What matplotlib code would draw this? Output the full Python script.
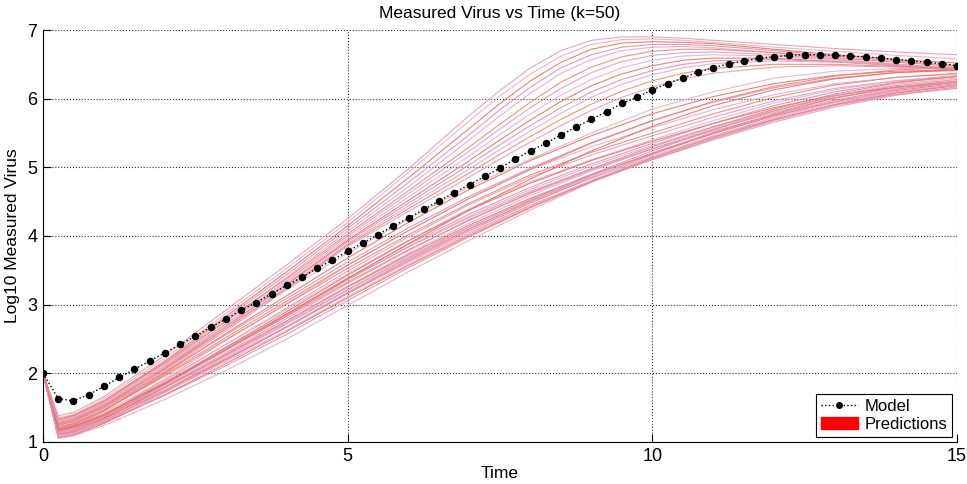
import numpy as np
import matplotlib
matplotlib.use("Agg")
import matplotlib.pyplot as plt
from matplotlib.lines import Line2D
from matplotlib.patches import Patch

plt.rcParams['font.family'] = ['Liberation Sans', 'DejaVu Sans']

# model output, sampled every 0.25 time units
model_time = np.linspace(0, 15, 61)
model_virus = [2.00, 1.63, 1.60, 1.69, 1.81, 1.94, 2.06, 2.18, 2.30, 2.42, 2.54, 2.67, 2.79,
               2.92, 3.03, 3.16, 3.28, 3.40, 3.53, 3.65, 3.78, 3.90, 4.02, 4.15, 4.26, 4.39,
               4.51, 4.63, 4.75, 4.87, 4.99, 5.12, 5.24, 5.35, 5.47, 5.59, 5.70, 5.81,
               5.93, 6.02, 6.13, 6.22, 6.30, 6.39, 6.45, 6.51, 6.55, 6.59, 6.61, 6.63,
               6.64, 6.64, 6.63, 6.62, 6.61, 6.59, 6.57, 6.55, 6.53, 6.51, 6.48]

# fast growing predictions
fast_time = [0, 0.25, 0.5, 1, 2, 3, 4, 5, 6, 7, 7.5, 8, 8.5, 9, 9.5, 10, 10.5, 11, 12, 13, 14, 15]
fast_runs = [
    [2.00, 1.38, 1.43, 1.66, 2.26, 2.92, 3.58, 4.25, 4.98, 5.76, 6.12, 6.45, 6.70, 6.85, 6.90, 6.90, 6.88, 6.85, 6.79, 6.73, 6.68, 6.64],
    [2.00, 1.35, 1.40, 1.63, 2.22, 2.87, 3.53, 4.20, 4.93, 5.68, 6.04, 6.36, 6.62, 6.79, 6.86, 6.87, 6.85, 6.82, 6.75, 6.69, 6.63, 6.58],
    [2.00, 1.32, 1.38, 1.60, 2.18, 2.83, 3.48, 4.15, 4.85, 5.57, 5.93, 6.26, 6.53, 6.72, 6.81, 6.83, 6.82, 6.80, 6.72, 6.64, 6.57, 6.52],
    [2.00, 1.30, 1.36, 1.58, 2.16, 2.80, 3.44, 4.11, 4.78, 5.48, 5.84, 6.17, 6.45, 6.64, 6.75, 6.79, 6.79, 6.77, 6.70, 6.62, 6.55, 6.48],
    [2.00, 1.28, 1.34, 1.56, 2.13, 2.76, 3.40, 4.07, 4.72, 5.40, 5.75, 6.08, 6.37, 6.57, 6.70, 6.75, 6.76, 6.74, 6.67, 6.58, 6.50, 6.44],
    [2.00, 1.33, 1.39, 1.60, 2.15, 2.76, 3.38, 4.03, 4.66, 5.30, 5.63, 5.95, 6.24, 6.46, 6.61, 6.69, 6.72, 6.72, 6.67, 6.60, 6.53, 6.47],
    [2.00, 1.26, 1.32, 1.53, 2.10, 2.72, 3.35, 4.00, 4.62, 5.24, 5.56, 5.87, 6.15, 6.38, 6.54, 6.63, 6.67, 6.68, 6.64, 6.57, 6.50, 6.43],
    [2.00, 1.30, 1.36, 1.57, 2.12, 2.72, 3.33, 3.97, 4.57, 5.17, 5.48, 5.78, 6.05, 6.28, 6.45, 6.56, 6.62, 6.64, 6.62, 6.56, 6.50, 6.44],
    [2.00, 1.24, 1.30, 1.51, 2.07, 2.68, 3.30, 3.94, 4.52, 5.10, 5.40, 5.69, 5.96, 6.19, 6.36, 6.48, 6.56, 6.59, 6.59, 6.54, 6.48, 6.42],
    [2.00, 1.28, 1.34, 1.55, 2.09, 2.69, 3.29, 3.92, 4.48, 5.04, 5.33, 5.61, 5.87, 6.10, 6.28, 6.41, 6.50, 6.55, 6.57, 6.54, 6.49, 6.44],
    [2.00, 1.22, 1.28, 1.49, 2.04, 2.65, 3.26, 3.89, 4.44, 4.98, 5.26, 5.53, 5.79, 6.02, 6.21, 6.35, 6.45, 6.51, 6.55, 6.53, 6.49, 6.45],
    [2.00, 1.26, 1.32, 1.53, 2.06, 2.65, 3.24, 3.87, 4.40, 4.92, 5.19, 5.45, 5.70, 5.92, 6.11, 6.26, 6.37, 6.44, 6.50, 6.50, 6.47, 6.43],
    [2.00, 1.20, 1.26, 1.47, 2.02, 2.62, 3.22, 3.85, 4.36, 4.86, 5.12, 5.37, 5.61, 5.83, 6.02, 6.17, 6.29, 6.37, 6.46, 6.48, 6.46, 6.42],
]

# slower growing predictions
slow_time = [0, 0.25, 0.5, 1, 2, 3, 4, 5, 6, 7, 8, 9, 10, 11, 12, 13, 14, 15]
slow_runs = [
    [2.00, 1.30, 1.36, 1.55, 2.10, 2.68, 3.22, 3.75, 4.25, 4.72, 5.12, 5.50, 5.85, 6.10, 6.30, 6.40, 6.44, 6.44],
    [2.00, 1.18, 1.23, 1.45, 2.00, 2.58, 3.13, 3.68, 4.20, 4.68, 5.10, 5.46, 5.78, 6.03, 6.22, 6.34, 6.40, 6.42],
    [2.00, 1.25, 1.30, 1.50, 2.02, 2.56, 3.09, 3.62, 4.12, 4.58, 4.99, 5.36, 5.68, 5.95, 6.16, 6.30, 6.38, 6.41],
    [2.00, 1.12, 1.17, 1.38, 1.92, 2.48, 3.02, 3.57, 4.08, 4.55, 4.97, 5.30, 5.58, 5.84, 6.06, 6.22, 6.31, 6.36],
    [2.00, 1.22, 1.27, 1.46, 1.96, 2.49, 3.01, 3.53, 4.02, 4.48, 4.89, 5.22, 5.50, 5.78, 6.02, 6.20, 6.31, 6.37],
    [2.00, 1.15, 1.20, 1.39, 1.89, 2.42, 2.95, 3.49, 3.99, 4.46, 4.86, 5.18, 5.46, 5.73, 5.97, 6.15, 6.26, 6.32],
    [2.00, 1.20, 1.25, 1.43, 1.91, 2.42, 2.93, 3.45, 3.94, 4.40, 4.79, 5.11, 5.40, 5.68, 5.94, 6.13, 6.26, 6.34],
    [2.00, 1.10, 1.15, 1.35, 1.85, 2.38, 2.90, 3.43, 3.93, 4.38, 4.77, 5.10, 5.38, 5.64, 5.87, 6.05, 6.17, 6.24],
    [2.00, 1.17, 1.22, 1.40, 1.87, 2.37, 2.87, 3.39, 3.88, 4.32, 4.71, 5.05, 5.35, 5.64, 5.90, 6.10, 6.24, 6.33],
    [2.00, 1.13, 1.18, 1.36, 1.83, 2.33, 2.84, 3.36, 3.85, 4.29, 4.68, 5.02, 5.32, 5.59, 5.83, 6.02, 6.16, 6.24],
    [2.00, 1.19, 1.24, 1.41, 1.86, 2.34, 2.83, 3.33, 3.80, 4.24, 4.63, 4.98, 5.30, 5.59, 5.85, 6.07, 6.23, 6.32],
    [2.00, 1.09, 1.14, 1.33, 1.80, 2.30, 2.80, 3.31, 3.79, 4.23, 4.62, 4.96, 5.27, 5.55, 5.80, 6.01, 6.16, 6.25],
    [2.00, 1.15, 1.20, 1.37, 1.82, 2.29, 2.77, 3.27, 3.75, 4.19, 4.59, 4.95, 5.27, 5.57, 5.83, 6.05, 6.21, 6.30],
    [2.00, 1.11, 1.16, 1.34, 1.79, 2.27, 2.76, 3.26, 3.73, 4.16, 4.55, 4.89, 5.20, 5.49, 5.75, 5.96, 6.12, 6.22],
    [2.00, 1.16, 1.21, 1.37, 1.80, 2.26, 2.73, 3.22, 3.69, 4.13, 4.53, 4.90, 5.24, 5.55, 5.82, 6.04, 6.19, 6.28],
    [2.00, 1.08, 1.12, 1.30, 1.75, 2.23, 2.72, 3.21, 3.68, 4.11, 4.50, 4.84, 5.15, 5.44, 5.70, 5.92, 6.09, 6.20],
    [2.00, 1.13, 1.18, 1.34, 1.76, 2.21, 2.68, 3.17, 3.64, 4.08, 4.48, 4.85, 5.19, 5.50, 5.78, 6.01, 6.17, 6.26],
    [2.00, 1.07, 1.11, 1.28, 1.72, 2.19, 2.67, 3.16, 3.62, 4.05, 4.45, 4.80, 5.11, 5.40, 5.66, 5.88, 6.05, 6.17],
    [2.00, 1.12, 1.17, 1.32, 1.73, 2.17, 2.63, 3.12, 3.59, 4.03, 4.44, 4.81, 5.14, 5.45, 5.73, 5.96, 6.13, 6.24],
    [2.00, 1.06, 1.10, 1.27, 1.69, 2.14, 2.61, 3.10, 3.57, 4.01, 4.42, 4.79, 5.12, 5.42, 5.69, 5.91, 6.08, 6.19],
    [2.00, 1.10, 1.14, 1.29, 1.68, 2.11, 2.57, 3.06, 3.54, 3.99, 4.41, 4.80, 5.14, 5.44, 5.70, 5.91, 6.06, 6.15],
    [2.00, 1.05, 1.09, 1.24, 1.62, 2.04, 2.50, 2.99, 3.48, 3.94, 4.38, 4.78, 5.12, 5.42, 5.68, 5.90, 6.06, 6.17],
    [2.00, 1.20, 1.26, 1.46, 1.98, 2.52, 3.05, 3.58, 4.08, 4.55, 4.97, 5.35, 5.68, 5.96, 6.18, 6.33, 6.42, 6.45],
    [2.00, 1.14, 1.19, 1.37, 1.84, 2.34, 2.85, 3.37, 3.84, 4.27, 4.65, 4.98, 5.27, 5.53, 5.76, 5.95, 6.10, 6.20],
    [2.00, 1.09, 1.13, 1.30, 1.76, 2.25, 2.75, 3.25, 3.71, 4.14, 4.52, 4.86, 5.17, 5.46, 5.72, 5.94, 6.10, 6.21],
    [2.00, 1.17, 1.22, 1.39, 1.85, 2.35, 2.86, 3.38, 3.89, 4.38, 4.83, 5.24, 5.60, 5.90, 6.13, 6.29, 6.38, 6.42],
    [2.00, 1.11, 1.15, 1.31, 1.74, 2.20, 2.68, 3.18, 3.66, 4.10, 4.51, 4.88, 5.21, 5.51, 5.77, 5.98, 6.14, 6.24],
]

line_colors = ['#e195b4', '#e9a9c2', '#e86a5a', '#dc88aa', '#e7a1bd', '#ee7e6c']

fig = plt.figure(figsize=(9.67, 4.84), dpi=100)
ax = fig.add_axes([0.0445, 0.0868, 0.9452, 0.8512])

n = 0
for run in fast_runs:
    ax.plot(fast_time, run, '-', color=line_colors[n % len(line_colors)], lw=0.8, alpha=0.85, zorder=2)
    n += 1
for run in slow_runs:
    ax.plot(slow_time, run, '-', color=line_colors[n % len(line_colors)], lw=0.8, alpha=0.85, zorder=2)
    n += 1

ax.plot(model_time, model_virus, ':', color='k', lw=1.0, marker='o', ms=4.4,
        mfc='k', mec='k', zorder=3)

ax.set_xlim(0, 15)
ax.set_ylim(1, 7)
ax.set_xticks([0, 5, 10, 15])
ax.set_yticks([1, 2, 3, 4, 5, 6, 7])
ax.tick_params(direction='in', length=6, width=0.8, labelsize=13, pad=4,
               top=False, right=False)
ax.spines['top'].set_visible(False)
ax.spines['right'].set_visible(False)
ax.grid(True, linestyle=':', color='#333333', linewidth=0.8)
ax.set_axisbelow(True)

ax.set_title('Measured Virus vs Time (k=50)', fontsize=12.5, pad=9)
ax.set_xlabel('Time', fontsize=12.5, labelpad=1)
ax.set_ylabel('Log10 Measured Virus', fontsize=12.5, labelpad=5)

handles = [Line2D([], [], linestyle=':', color='k', lw=1.0, marker='o', ms=4, mfc='k'),
           Patch(facecolor='red', edgecolor='red')]
leg = ax.legend(handles, ['Model', 'Predictions'], loc='lower right', fontsize=12,
                fancybox=False, framealpha=1, edgecolor='black', borderpad=0.3,
                handlelength=2.2, handletextpad=0.4, labelspacing=0.2,
                borderaxespad=0.3)
leg.get_frame().set_linewidth(0.8)

fig.savefig('out.png', dpi=100)
